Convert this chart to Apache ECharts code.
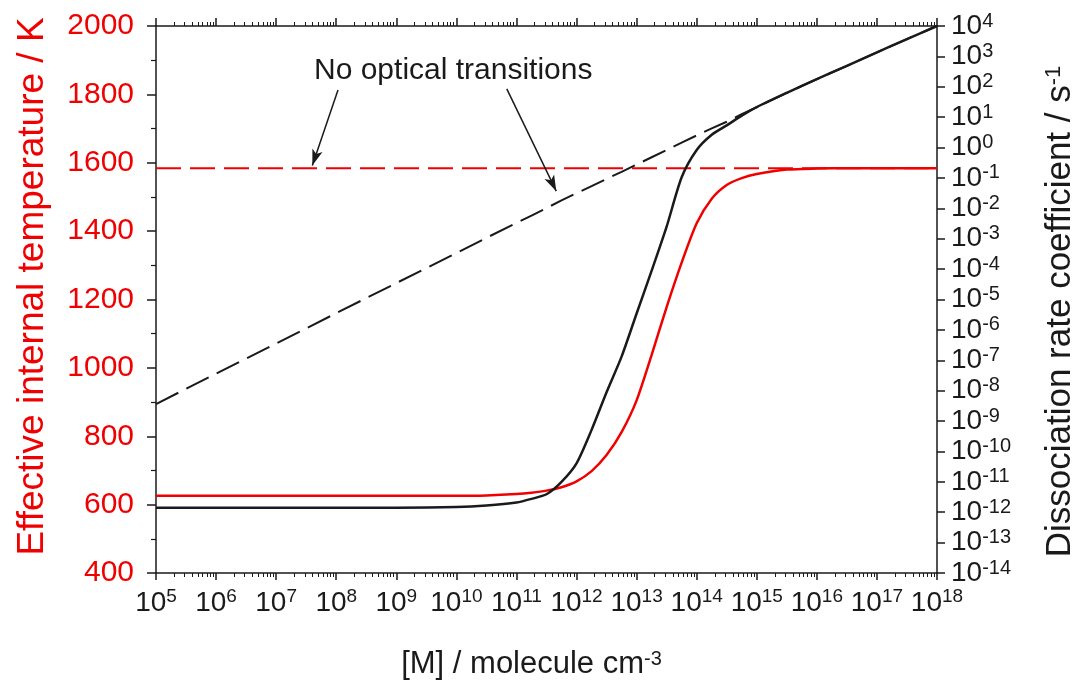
<!DOCTYPE html>
<html>
<head>
<meta charset="utf-8">
<script src="https://cdn.jsdelivr.net/npm/echarts@6/dist/echarts.min.js"></script>
<style>
  html, body { margin: 0; padding: 0; background: #fff; }
  #chart { width: 1081px; height: 684px; }
</style>
</head>
<body>
<div id="chart"></div>
<script>
// [M] / molecule cm-3
const concentration = [1e5, 1e6, 1e7, 1e8, 1e9, 1e10, 3.16e10, 1e11, 1.78e11, 3.16e11, 5.62e11,
  1e12, 1.78e12, 3.16e12, 5.62e12, 1e13, 1.78e13, 3.16e13, 5.62e13, 1e14, 1.78e14, 3.16e14,
  5.62e14, 1e15, 3.16e15, 1e16, 3.16e16, 1e17, 3.16e17, 1e18]
// effective internal temperature / K (red, left axis)
const tempEff = [626, 626, 626, 626, 626, 626, 627, 631, 635, 641, 651,
  668, 698, 745, 812, 905, 1038, 1178, 1308, 1423, 1495, 1535,
  1555, 1567, 1580, 1583, 1584, 1584, 1584, 1584]
// dissociation rate coefficient / s-1 (black, right axis)
const rateEff = [1.41e-12, 1.41e-12, 1.41e-12, 1.41e-12, 1.41e-12, 1.48e-12, 1.66e-12, 2.09e-12, 2.75e-12, 3.9e-12, 1.0e-11,
  4.07e-11, 5.13e-10, 8.9e-9, 1.32e-7, 3.47e-6, 8.9e-5, 2.5e-3, 0.105, 0.83, 2.63, 5.37,
  11.2, 21.4, 63.1, 178, 490, 1350, 3720, 10000]
// no optical transitions (dashed)
const rateNoOptical = [3.63e-9, 3.63e-8, 3.55e-7, 3.55e-6, 3.47e-5, 3.39e-4, 1.07e-3, 3.31e-3, 5.75e-3, 1.02e-2, 1.82e-2,
  3.16e-2, 5.37e-2, 9.33e-2, 0.158, 0.275, 0.479, 0.832, 1.45, 2.51, 4.27, 7.08,
  12.6, 21.4, 63.1, 178, 490, 1350, 3720, 10000]
const tempNoOpticalM = [1e5, 1e18]
const tempNoOptical = [1584, 1584]

const RED = '#f00000'
const INK = '#1a1a1a'
const FONT = '"Liberation Sans", Arial, sans-serif'

function pairs(xs, ys) {
  return xs.map((x, i) => [x, ys[i]])
}
function powLabel(v) {
  const e = Math.round(Math.log10(v))
  return '{b|10}{s|' + e + '}'
}

const chart = echarts.init(document.getElementById('chart'))

const xLabelRich = {
  b: { fontSize: 28, fontFamily: FONT, color: INK, lineHeight: 32 },
  s: { fontSize: 19, fontFamily: FONT, color: INK, lineHeight: 22, verticalAlign: 'top' }
}
const yLabelRich = {
  b: { fontSize: 28, fontFamily: FONT, color: INK, lineHeight: 30 },
  s: { fontSize: 20, fontFamily: FONT, color: INK, lineHeight: 20, verticalAlign: 'top' }
}

const option = {
  animation: false,
  backgroundColor: '#fff',
  textStyle: { fontFamily: FONT },
  grid: { left: 156, right: 144, top: 26, bottom: 111, containLabel: false, outerBoundsMode: 'none' },
  xAxis: [
    {
      type: 'log', logBase: 10, min: 1e5, max: 1e18, interval: 1, position: 'bottom',
      name: '[M] / molecule cm{s|-3}', nameLocation: 'middle', nameGap: 76,
      nameTextStyle: {
        fontSize: 31, color: INK, fontFamily: FONT, padding: [0, 30, 0, 0],
        rich: { s: { fontSize: 20, fontFamily: FONT, color: INK, verticalAlign: 'top', lineHeight: 22 } }
      },
      axisLine: { show: true, lineStyle: { color: INK, width: 1.5 } },
      axisTick: { show: true, inside: false, length: 7, lineStyle: { color: INK, width: 1.5 } },
      minorTick: { show: true, splitNumber: 9, length: 4, lineStyle: { color: INK, width: 1 } },
      axisLabel: { margin: 14, interval: 0, hideOverlap: false, formatter: powLabel, rich: xLabelRich },
      splitLine: { show: false }
    },
    {
      type: 'log', logBase: 10, min: 1e5, max: 1e18, interval: 1, position: 'top',
      axisLine: { show: true, lineStyle: { color: INK, width: 1.5 } },
      axisTick: { show: true, inside: false, length: 8, lineStyle: { color: INK, width: 1.5 } },
      minorTick: { show: true, splitNumber: 9, length: 4, lineStyle: { color: INK, width: 1 } },
      axisLabel: { show: false },
      splitLine: { show: false }
    }
  ],
  yAxis: [
    {
      type: 'value', min: 400, max: 2000, interval: 200, position: 'left',
      name: 'Effective internal temperature / K', nameLocation: 'middle', nameGap: 105, nameRotate: 90,
      nameTextStyle: { fontSize: 37, color: RED, fontFamily: FONT, padding: [0, 0, 0, 26] },
      axisLine: { show: true, lineStyle: { color: INK, width: 1.5 } },
      axisTick: { show: true, inside: false, length: 9, lineStyle: { color: INK, width: 1.5 } },
      minorTick: { show: true, splitNumber: 2, length: 5, lineStyle: { color: INK, width: 1.2 } },
      axisLabel: { margin: 22, fontSize: 30, color: RED, fontFamily: FONT, formatter: v => String(v) },
      splitLine: { show: false }
    },
    {
      type: 'log', logBase: 10, min: 1e-14, max: 1e4, interval: 1, position: 'right',
      name: 'Dissociation rate coefficient / s{s|-1}', nameLocation: 'middle', nameGap: 106, nameRotate: 90,
      nameTextStyle: {
        fontSize: 35, color: INK, fontFamily: FONT, padding: [0, 24, 0, 0],
        rich: { s: { fontSize: 22, fontFamily: FONT, color: INK, verticalAlign: 'top', lineHeight: 24 } }
      },
      axisLine: { show: true, lineStyle: { color: INK, width: 1.5 } },
      axisTick: { show: true, inside: false, length: 8, lineStyle: { color: INK, width: 1.5 } },
      axisLabel: { margin: 14, interval: 0, hideOverlap: false, formatter: powLabel, rich: yLabelRich },
      splitLine: { show: false }
    }
  ],
  graphic: [
    {
      type: 'text', left: 314, top: 56,
      style: { text: 'No optical transitions', fontSize: 30, fontFamily: FONT, fill: INK }
    }
  ],
  series: [
    {
      name: 'no optical T', type: 'line', xAxisIndex: 0, yAxisIndex: 0,
      data: pairs(tempNoOpticalM, tempNoOptical), showSymbol: false,
      lineStyle: { color: RED, width: 2, type: [25, 9] },
      markLine: {
        silent: true, symbol: ['none', 'arrow'], symbolSize: [8, 16],
        label: { show: false },
        lineStyle: { color: INK, width: 1.5, type: 'solid' },
        data: [
          [{ coord: [1.07e8, 1813] }, { coord: [4.0e7, 1592] }],
          [{ coord: [6.9e10, 1816] }, { coord: [4.6e11, 1517] }]
        ]
      }
    },
    {
      name: 'no optical k', type: 'line', xAxisIndex: 0, yAxisIndex: 1,
      data: pairs(concentration, rateNoOptical), showSymbol: false,
      lineStyle: { color: INK, width: 2, type: [25, 9] }
    },
    {
      name: 'T eff', type: 'line', xAxisIndex: 0, yAxisIndex: 0,
      data: pairs(concentration, tempEff), showSymbol: false, smooth: 0.25,
      lineStyle: { color: RED, width: 2.5 }
    },
    {
      name: 'k eff', type: 'line', xAxisIndex: 0, yAxisIndex: 1,
      data: pairs(concentration, rateEff), showSymbol: false, smooth: 0.25,
      lineStyle: { color: INK, width: 2.5 }
    }
  ]
}

chart.setOption(option)
</script>
</body>
</html>
